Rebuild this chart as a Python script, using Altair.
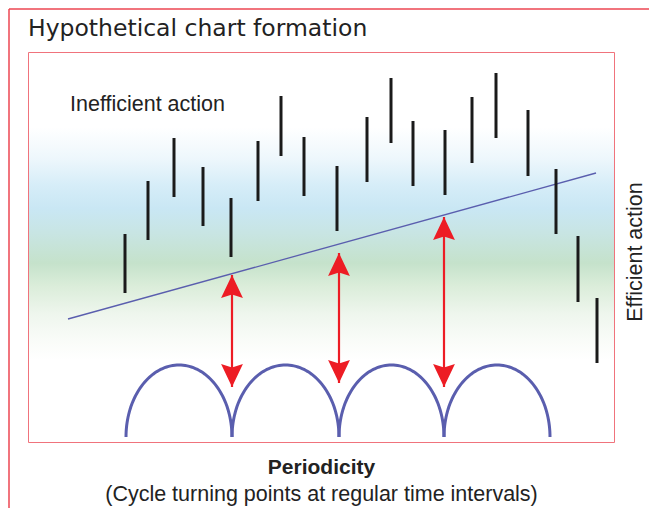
import altair as alt
import pandas as pd
import numpy as np

# ---- data (time units across, price units up) ----
bar_time = [96, 119, 145, 174, 202, 229, 252, 275, 308, 338, 362, 384, 416, 443, 467, 499, 527, 549, 568]
bar_high = [208, 261, 304, 275, 244, 301, 346, 305, 276, 325, 364, 321, 312, 345, 369, 332, 273, 206, 144]
bar_low = [149, 202, 245, 216, 185, 241, 286, 246, 211, 260, 299, 256, 247, 279, 304, 266, 208, 140, 79]

trend_time = [39, 567]
trend_price = [123, 269]

cycle_lows = [97, 203, 310, 415, 521]
cycle_base = 5
cycle_height = 72

arrow_time = [203, 310, 415]
arrow_top = [167, 189, 225]
arrow_bottom = [55, 59, 55]

title_text = "Hypothetical chart formation"
label_top = "Inefficient action"
label_right = "Efficient action"
x_title = "Periodicity"
x_subtitle = "(Cycle turning points at regular time intervals)"

W, H = 585, 389
RED = "#ec4652"
BLUE = "#5a5eae"
ARROW = "#ed1c24"

xs = alt.Scale(domain=[0, W], nice=False, zero=False)
ys = alt.Scale(domain=[0, H], nice=False, zero=False)

bars = pd.DataFrame({"t": bar_time, "p": bar_low, "p2": bar_high})
trend = pd.DataFrame({"t": trend_time, "p": trend_price})
arrows = pd.DataFrame({"t": arrow_time, "p": arrow_bottom, "p2": arrow_top})
heads_up = pd.DataFrame({"t": arrow_time, "p": arrow_top})
heads_dn = pd.DataFrame({"t": arrow_time, "p": arrow_bottom})

rows = []
for i in range(len(cycle_lows) - 1):
    a, b = cycle_lows[i], cycle_lows[i + 1]
    mid, half = (a + b) / 2, (b - a) / 2
    for k, th in enumerate(np.linspace(np.pi, 0, 81)):
        rows.append({"cycle": i, "k": k,
                     "t": mid + half * np.cos(th),
                     "p": cycle_base + cycle_height * np.sin(th)})
arcs = pd.DataFrame(rows)

one = pd.DataFrame({"a": [0]})

# background gradient bands
bg = alt.Chart(one).mark_rect(
    fill=alt.Gradient(
        gradient="linear", x1=0, x2=0, y1=0, y2=1,
        stops=[
            alt.GradientStop(color="#ffffff", offset=0.0),
            alt.GradientStop(color="#ffffff", offset=0.19),
            alt.GradientStop(color="#eef7fc", offset=0.27),
            alt.GradientStop(color="#d6edf8", offset=0.34),
            alt.GradientStop(color="#c9e7f4", offset=0.40),
            alt.GradientStop(color="#c8e5e4", offset=0.46),
            alt.GradientStop(color="#c5e2cb", offset=0.54),
            alt.GradientStop(color="#dbedda", offset=0.60),
            alt.GradientStop(color="#eef6ed", offset=0.67),
            alt.GradientStop(color="#f8fbf7", offset=0.73),
            alt.GradientStop(color="#ffffff", offset=0.79),
            alt.GradientStop(color="#ffffff", offset=1.0),
        ],
    ),
    strokeWidth=0,
).encode(x=alt.value(0), x2=alt.value(W), y=alt.value(0), y2=alt.value(H))

bar_layer = alt.Chart(bars).mark_rule(color="#1a1a1a", strokeWidth=3).encode(
    x=alt.X("t:Q", scale=xs, axis=None),
    y=alt.Y("p:Q", scale=ys, axis=None),
    y2="p2:Q",
)

trend_layer = alt.Chart(trend).mark_line(color=BLUE, strokeWidth=1.3).encode(
    x=alt.X("t:Q", scale=xs, axis=None),
    y=alt.Y("p:Q", scale=ys, axis=None),
)

arc_layer = alt.Chart(arcs).mark_line(color=BLUE, strokeWidth=3, strokeCap="butt").encode(
    x=alt.X("t:Q", scale=xs, axis=None),
    y=alt.Y("p:Q", scale=ys, axis=None),
    detail="cycle:N",
    order="k:Q",
)

shaft_layer = alt.Chart(arrows).mark_rule(color=ARROW, strokeWidth=2.2).encode(
    x=alt.X("t:Q", scale=xs, axis=None),
    y=alt.Y("p:Q", scale=ys, axis=None),
    y2="p2:Q",
)

up_layer = alt.Chart(heads_up).mark_point(
    shape="M0,0L0.95,2L0,1.7L-0.95,2Z", size=529, filled=True,
    color=ARROW, opacity=1, strokeWidth=0,
).encode(x=alt.X("t:Q", scale=xs, axis=None), y=alt.Y("p:Q", scale=ys, axis=None))

dn_layer = alt.Chart(heads_dn).mark_point(
    shape="M0,0L0.95,-2L0,-1.7L-0.95,-2Z", size=529, filled=True,
    color=ARROW, opacity=1, strokeWidth=0,
).encode(x=alt.X("t:Q", scale=xs, axis=None), y=alt.Y("p:Q", scale=ys, axis=None))

# texts
txt_title = alt.Chart(one).mark_text(
    text=title_text, font="DejaVu Sans", fontSize=23.5,
    color="#222222", align="left", baseline="alphabetic",
).encode(x=alt.value(-1), y=alt.value(-17))

txt_ineff = alt.Chart(one).mark_text(
    text=label_top, font="Liberation Sans", fontSize=21.5,
    color="#222222", align="left", baseline="alphabetic",
).encode(x=alt.value(41), y=alt.value(58))

txt_eff = alt.Chart(one).mark_text(
    text=label_right, font="Liberation Sans", fontSize=21.5, angle=270,
    color="#222222", align="center", baseline="middle",
).encode(x=alt.value(607), y=alt.value(199))

txt_xt = alt.Chart(one).mark_text(
    text=x_title, font="Liberation Sans", fontSize=21, fontWeight="bold",
    color="#222222", align="center", baseline="alphabetic",
).encode(x=alt.value(292.5), y=alt.value(421))

txt_xs = alt.Chart(one).mark_text(
    text=x_subtitle, font="Liberation Sans", fontSize=21.5,
    color="#222222", align="center", baseline="alphabetic",
).encode(x=alt.value(292.5), y=alt.value(448))

# outer frame (left and top edges)
frame_left = alt.Chart(one).mark_rule(color=RED, strokeWidth=1.5).encode(
    x=alt.value(-20), y=alt.value(-44), y2=alt.value(460))
frame_top = alt.Chart(one).mark_rule(color=RED, strokeWidth=1.5).encode(
    x=alt.value(-20), x2=alt.value(625), y=alt.value(-44))

chart = alt.layer(
    bg, trend_layer, bar_layer, arc_layer, shaft_layer, up_layer, dn_layer,
    txt_title, txt_ineff, txt_eff, txt_xt, txt_xs, frame_left, frame_top,
).properties(
    width=W, height=H,
    autosize=alt.AutoSizeParams(type="none"),
    padding={"left": 21, "top": 45, "right": 35, "bottom": 66},
).configure_view(stroke=RED, strokeWidth=1.5)

chart.save("out.html", embed_options={"renderer": "svg", "actions": False})
